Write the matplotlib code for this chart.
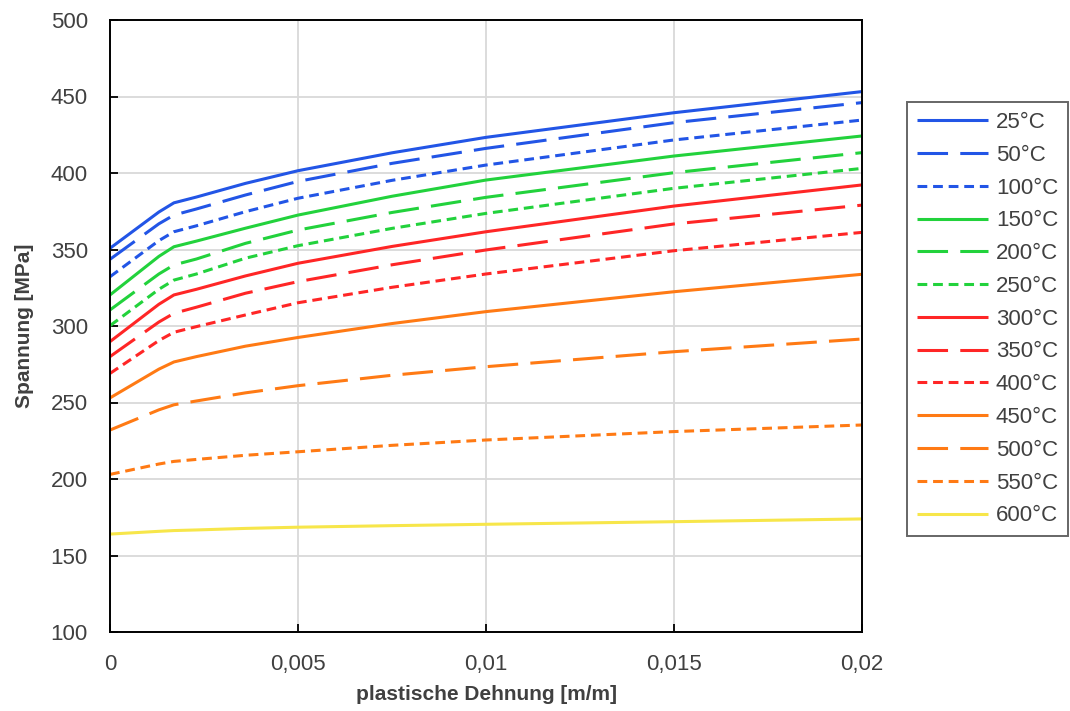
import matplotlib
matplotlib.use("Agg")
import matplotlib.pyplot as plt

# plastic strain sample points [m/m]
strain = [0, 0.0013, 0.0017, 0.0023, 0.0036, 0.005, 0.0075, 0.01, 0.015, 0.02]

labels = ["25°C", "50°C", "100°C", "150°C", "200°C", "250°C", "300°C",
          "350°C", "400°C", "450°C", "500°C", "550°C", "600°C"]

s25 = [350.8, 374.5, 380.5, 384.3, 393.2, 401.5, 413.2, 423.3, 439.4, 453.2]
s50 = [343.6, 366.8, 372.5, 376.5, 385.6, 394.5, 406.3, 416.1, 432.9, 446.0]
s100 = [332.2, 355.8, 361.6, 365.5, 374.7, 383.5, 395.2, 405.2, 421.6, 434.6]
s150 = [320.3, 345.5, 351.8, 355.5, 363.9, 372.5, 384.8, 395.4, 411.1, 424.2]
s200 = [310.5, 334.0, 339.9, 343.8, 354.0, 362.7, 374.2, 384.1, 400.2, 413.3]
s250 = [300.2, 324.0, 330.0, 334.0, 344.3, 352.5, 363.8, 373.6, 390.0, 403.0]
s300 = [289.8, 314.2, 320.3, 324.0, 332.7, 341.0, 352.0, 361.6, 378.4, 392.2]
s350 = [280.0, 302.6, 308.3, 312.3, 321.4, 329.0, 340.0, 349.7, 366.7, 379.0]
s400 = [269.0, 290.5, 295.9, 299.6, 307.2, 315.2, 325.3, 334.0, 349.2, 361.2]
s450 = [253.0, 271.8, 276.5, 280.0, 286.8, 292.5, 301.6, 309.4, 322.4, 333.8]
s500 = [232.0, 245.2, 248.5, 251.0, 256.3, 261.0, 267.8, 273.4, 283.2, 291.5]
s550 = [203.0, 209.8, 211.5, 212.8, 215.5, 217.8, 222.0, 225.5, 231.0, 235.3]
s600 = [164.0, 165.8, 166.3, 166.7, 167.7, 168.5, 169.5, 170.4, 172.1, 173.9]

series = [s25, s50, s100, s150, s200, s250, s300, s350, s400, s450, s500, s550, s600]

xticks = [0, 0.005, 0.01, 0.015, 0.02]
xticklabels = ["0", "0,005", "0,01", "0,015", "0,02"]
yticks = [100, 150, 200, 250, 300, 350, 400, 450, 500]

blue, green, red, orange, yellow = "#2255E6", "#22D23C", "#FF2626", "#FF7A14", "#F7E64A"
colors = [blue, blue, blue, green, green, green, red, red, red,
          orange, orange, orange, yellow]
dashed = (0, (10, 4))
dotted = (0, (3.2, 1.9))
styles = ["-", dashed, dotted] * 4 + ["-"]

plt.rcParams['font.family'] = ['Liberation Sans', 'DejaVu Sans']

fig = plt.figure(figsize=(10.7, 7.11), dpi=100)
ax = fig.add_axes([110 / 1070, 79 / 711, 752 / 1070, 612 / 711])

for ys, c, ls, lab in zip(series, colors, styles, labels):
    ax.plot(strain, ys, color=c, linestyle=ls, linewidth=2.2, label=lab,
            solid_capstyle='butt', dash_capstyle='butt', zorder=3)

ax.set_xlim(0, 0.02)
ax.set_ylim(100, 500)
ax.set_xticks(xticks)
ax.set_xticklabels(xticklabels)
ax.set_yticks(yticks)
ax.grid(True, color="#D9D9D9", linewidth=1.3, zorder=0)
ax.set_axisbelow(True)
for sp in ax.spines.values():
    sp.set_color("black")
    sp.set_linewidth(1.4)
    sp.set_zorder(4)

ax.tick_params(axis='both', direction='in', length=6, width=1.3, color='black',
               labelsize=16, labelcolor='#404040')
ax.tick_params(axis='y', pad=16)
ax.tick_params(axis='x', pad=16)

ax.set_ylabel("Spannung [MPa]", fontsize=15, fontweight='bold', color='#404040', labelpad=12)
ax.set_xlabel("plastische Dehnung [m/m]", fontsize=15, fontweight='bold', color='#404040', labelpad=7)

leg = fig.legend(loc='upper left', bbox_to_anchor=(907 / 1070, 609 / 711),
                 frameon=True, fancybox=False, fontsize=16, labelspacing=0.53,
                 handlelength=3.2, handletextpad=0.35, borderpad=0.45,
                 borderaxespad=0)
leg.get_frame().set_edgecolor('#404040')
leg.get_frame().set_linewidth(1.4)
for t in leg.get_texts():
    t.set_color('#404040')

fig.savefig("out.png", dpi=100)
